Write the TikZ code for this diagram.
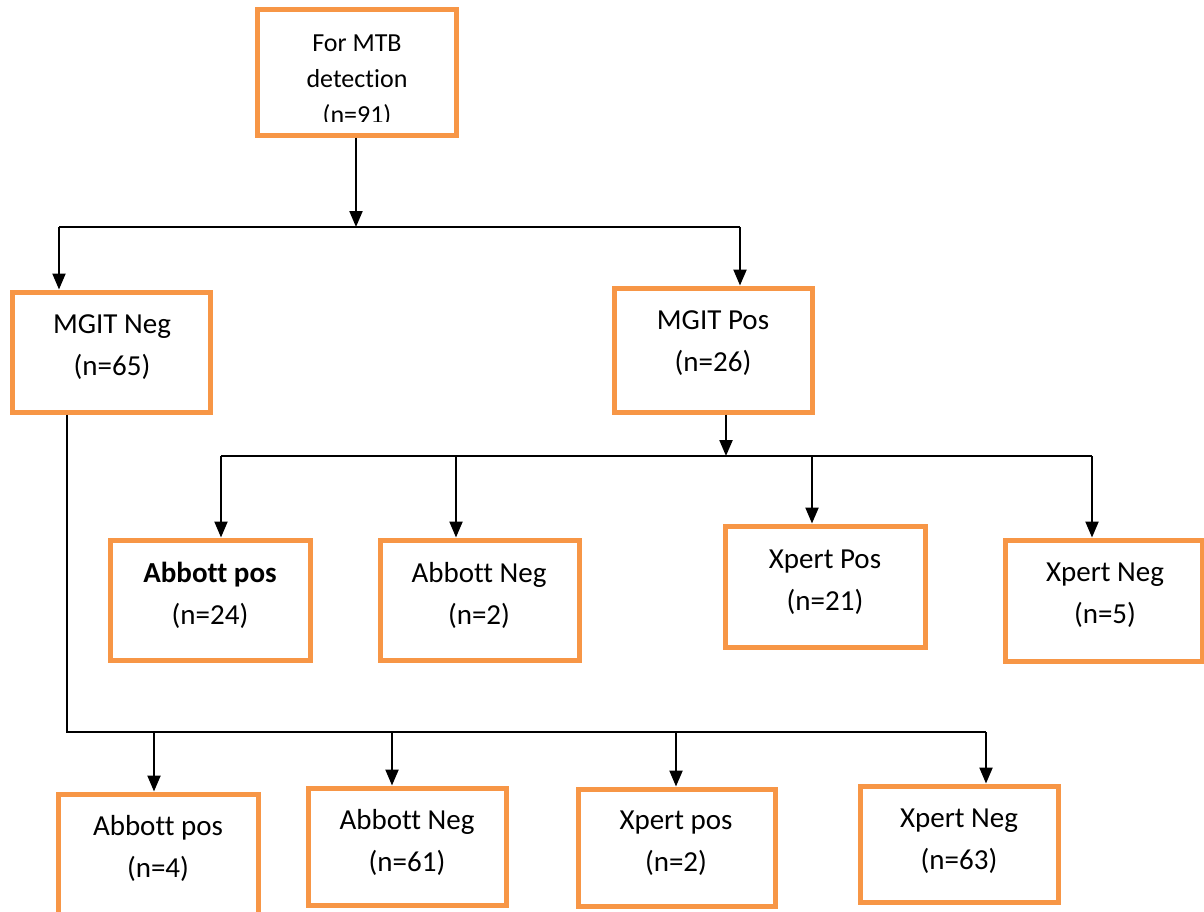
\documentclass[tikz,border=0pt]{standalone}
\usepackage{fontspec}
\setmainfont{Carlito}[Ligatures=NoCommon]
\usetikzlibrary{arrows.meta}
\definecolor{boxorange}{HTML}{F79646}
\tikzset{
  box/.style={draw=boxorange, line width=5pt, inner sep=0pt},
  lbl/.style={align=center, inner sep=0pt, font=\fontsize{29}{42}\selectfont},
  toplbl/.style={align=center, inner sep=0pt, font=\fontsize{26}{36}\selectfont},
  ln/.style={line width=2.2pt},
  arr/.style={line width=2.2pt, -{Triangle[length=16pt,width=13pt]}}
}
\begin{document}
\begin{tikzpicture}[x=1pt,y=-1pt]
\useasboundingbox (0,0) rectangle (1204,911);
% boxes
\node[box, minimum width=199pt, minimum height=126pt] (top) at (356.5,72) {};
\node[box, minimum width=198pt, minimum height=120pt] (mneg) at (111,352) {};
\node[box, minimum width=198pt, minimum height=124pt] (mpos) at (713,350) {};
\node[box, minimum width=200pt, minimum height=120pt] (apos1) at (210,600) {};
\node[box, minimum width=199pt, minimum height=120pt] (aneg1) at (479.5,600) {};
\node[box, minimum width=200pt, minimum height=121pt] (xpos1) at (825,586.5) {};
\node[box, minimum width=197pt, minimum height=121pt] (xneg1) at (1103.5,600.5) {};
\node[box, minimum width=200pt, minimum height=120pt] (apos2) at (158,854) {};
\node[box, minimum width=198pt, minimum height=117pt] (aneg2) at (407,846.5) {};
\node[box, minimum width=197pt, minimum height=117pt] (xpos2) at (676.5,847.5) {};
\node[box, minimum width=198pt, minimum height=116pt] (xneg2) at (959,844) {};
% texts
\begin{scope}
\clip (259.5,11.5) rectangle (453.5,121);
\node[toplbl] (ttop) at (357,81) {For MTB\\detection\\(n=91)};
\end{scope}
\node[lbl] (tmneg) at (112,347) {MGIT Neg\\(n=65)};
\node[lbl] (tmpos) at (713,343) {MGIT Pos\\(n=26)};
\node[lbl] (tapos1) at (210,595) {\textbf{Abbott pos}\\(n=24)};
\node[lbl] (taneg1) at (479,595) {Abbott Neg\\(n=2)};
\node[lbl] (txpos1) at (825,582) {Xpert Pos\\(n=21)};
\node[lbl] (txneg1) at (1105,595) {Xpert Neg\\(n=5)};
\node[lbl] (tapos2) at (158,848) {Abbott pos\\(n=4)};
\node[lbl] (taneg2) at (407,842) {Abbott Neg\\(n=61)};
\node[lbl] (txpos2) at (676,843) {Xpert pos\\(n=2)};
\node[lbl] (txneg2) at (959,841) {Xpert Neg\\(n=63)};
% junction coordinates
\coordinate (j0) at (356,227);
\coordinate (jl) at (59,227);
\coordinate (jr) at (740,227);
\coordinate (p0) at (726,456);
\coordinate (p1) at (221,456);
\coordinate (p2) at (456,456);
\coordinate (p3) at (812,456);
\coordinate (p4) at (1092,456);
\coordinate (n0) at (67,412);
\coordinate (n1) at (67,732);
\coordinate (n2) at (154,732);
\coordinate (n3) at (392,732);
\coordinate (n4) at (676,732);
\coordinate (n5) at (986,732);
% connectors from top
\draw[arr] (top.south -| j0) -- (j0);
\draw[ln] (jl) -- (jr);
\draw[arr] (jl) -- (jl |- mneg.north);
\draw[arr] (jr) -- (jr |- mpos.north);
% MGIT Pos branch
\draw[arr] (mpos.south -| p0) -- (p0);
\draw[ln] (p1) -- (p4);
\draw[arr] (p1) -- (p1 |- apos1.north);
\draw[arr] (p2) -- (p2 |- aneg1.north);
\draw[arr] (p3) -- (p3 |- xpos1.north);
\draw[arr] (p4) -- (p4 |- xneg1.north);
% MGIT Neg branch
\draw[ln] (mneg.south -| n0) -- (n1) -- (n5);
\draw[arr] (n2) -- (n2 |- apos2.north);
\draw[arr] (n3) -- (n3 |- aneg2.north);
\draw[arr] (n4) -- (n4 |- xpos2.north);
\draw[arr] (n5) -- (n5 |- xneg2.north);
\end{tikzpicture}
\end{document}
